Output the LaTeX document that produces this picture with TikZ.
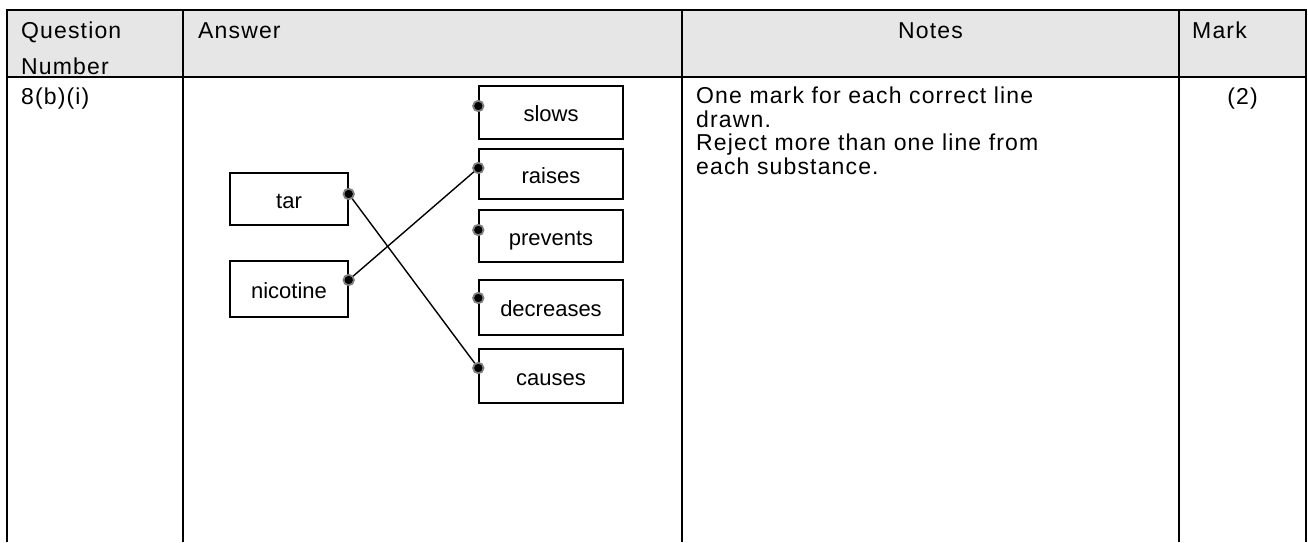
\documentclass[tikz,border=0pt]{standalone}
\usepackage{fontspec}
\setmainfont{Liberation Sans}
\newfontfamily\tabfam[LetterSpace=5]{Liberation Sans}
\usetikzlibrary{positioning}

\definecolor{headgrey}{HTML}{E6E6E6}

\tikzset{
  rule/.style={line width=2pt},
  cell/.style={inner sep=0pt,font=\tabfam\fontsize{23}{24}\selectfont},
  wordbox/.style={draw,line width=1.4pt,inner sep=0pt,text height=18pt,text depth=0pt,
    font=\fontsize{22}{24}\selectfont},
  pin/.style={circle,fill=black,draw=gray,line width=1.8pt,inner sep=0pt,minimum size=10.5pt},
  link/.style={line width=1.4pt}
}

\begin{document}
\begin{tikzpicture}[x=1pt,y=-1pt]
      \useasboundingbox (0,0) rectangle (1308,542);

      % table columns and rows
      \def\xQ{7}
      \def\xA{183}
      \def\xN{682}
      \def\xM{1179}
      \def\xR{1306}
      \def\yT{10}
      \def\yH{77}
      \def\yB{542}

      \fill[headgrey] (\xQ,\yT) rectangle (\xR,\yH);
      \draw[rule] (\xQ,\yB) -- (\xQ,\yT) -- (\xR,\yT) -- (\xR,\yB);
      \draw[rule] (\xQ,\yH) -- (\xR,\yH);
      \foreach \x in {\xA,\xN,\xM}
               {
                 \draw[rule] (\x,\yT) -- (\x,\yB);
               }

      % header
      \node[cell,anchor=north west,align=left,font=\tabfam\fontsize{23}{36}\selectfont]
            (qhead) at (21,21.5) {Question\\Number};
      \node[cell,anchor=base west] (ahead) at (198,38) {Answer};
      \node[cell,anchor=base] (nhead) at ({(\xN+\xM)/2},38) {Notes};
      \node[cell,anchor=base west] (mhead) at (1192,38) {Mark};

      % row
      \node[cell,anchor=base west] (qnum) at (21,104) {8(b)(i)};
      \node[cell,anchor=north west,align=left,font=\tabfam\fontsize{23}{23.5}\selectfont]
            (notes) at (696,87)
            {One mark for each correct line\\drawn.\\Reject more than one line from\\each substance.};
      \node[cell,anchor=base] (mark) at ({(\xM+\xR)/2},104) {(2)};

      % substances
      \node[wordbox,minimum width=118pt,minimum height=52pt] (tar) at (289,199) {tar};
      \node[wordbox,minimum width=118pt,minimum height=56pt] (nicotine) at (289,289) {nicotine};

      % effects
      \node[wordbox,minimum width=144pt,minimum height=53pt] (slows) at (551,112.5) {slows};
      \node[wordbox,minimum width=144pt,minimum height=50pt] (raises) at (551,174) {raises};
      \node[wordbox,minimum width=144pt,minimum height=52pt] (prevents) at (551,236) {prevents};
      \node[wordbox,minimum width=144pt,minimum height=55pt] (decreases) at (551,307.5) {decreases};
      \node[wordbox,minimum width=144pt,minimum height=54pt] (causes) at (551,376) {causes};

      % pin points
      \foreach \b/\s in {tar/5,nicotine/9}
               {
                 \coordinate (\b-pin) at ([yshift=\s pt]\b.east);
               }
      \foreach \b/\s in {slows/6.5,raises/6,prevents/6,decreases/9.5,causes/8}
               {
                 \coordinate (\b-pin) at ([yshift=\s pt]\b.west);
               }

      % answer lines
      \draw[link] (tar-pin) -- (causes-pin);
      \draw[link] (nicotine-pin) -- (raises-pin);

      \foreach \b in {tar,nicotine,slows,raises,prevents,decreases,causes}
               {
                 \node[pin] (\b-dot) at (\b-pin) {};
               }
    \end{tikzpicture}
\end{document}
